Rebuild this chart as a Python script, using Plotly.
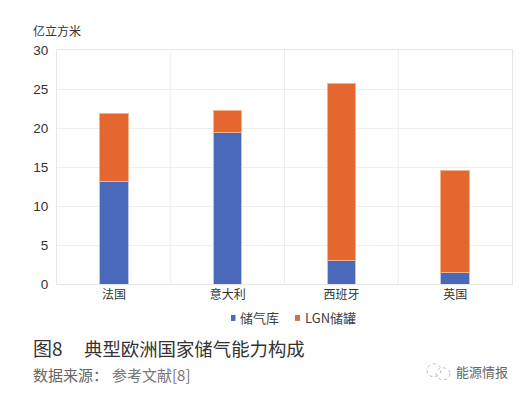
import plotly.graph_objects as go

W, H = 524, 395
categories = ["法国", "意大利", "西班牙", "英国"]
storage = [13.2, 19.4, 3.0, 1.5]
lng = [8.6, 2.9, 22.7, 13.1]
series_names = ["储气库", "LGN储罐"]
y_ticks = [0, 5, 10, 15, 20, 25, 30]

FONT = "Noto Sans CJK SC"
L, R, T, B = 57, 512, 49.5, 284
BLUE, ORANGE = "#4a69ba", "#e3672e"

fig = go.Figure()
fig.add_bar(name=series_names[0], x=categories, y=storage, marker_color=BLUE, width=0.25,
            marker_line_width=1, marker_line_color="#b9c6ea", showlegend=False)
fig.add_bar(name=series_names[1], x=categories, y=lng, marker_color=ORANGE, width=0.25,
            marker_line_width=1, marker_line_color="#f2b48f", showlegend=False)

fig.update_layout(
    width=W, height=H, autosize=False, barmode="stack", paper_bgcolor="white", plot_bgcolor="white",
    font=dict(family=FONT, color="#333333", size=12),
    margin=dict(l=L, r=W - R, t=T, b=H - B),
    bargap=0.75,
    showlegend=False,
)
fig.update_xaxes(type="category", showgrid=False, showline=True, linecolor="#e6e6e6", linewidth=1, mirror=True,
                 ticks="", tickfont=dict(size=12, color="#333333", family=FONT))
fig.update_yaxes(range=[0, 30], tickvals=y_ticks, gridcolor="#eeeeee", gridwidth=1, showline=True,
                 linecolor="#e6e6e6", linewidth=1, mirror=True, zeroline=False, ticks="",
                 ticklabelstandoff=5, tickfont=dict(size=13.5, color="#333333", family="Liberation Sans"))

# category separators, behind the bars
for i in range(1, len(categories)):
    fig.add_shape(type="line", xref="x", yref="paper", x0=i - 0.5, x1=i - 0.5, y0=0, y1=1,
                  line=dict(color="#eeeeee", width=1), layer="below")

def fx(x):
    return (x - L) / (R - L)

def fy(y):
    return (B - y) / (B - T)

def note(x, y, text, size, color, anchor="left"):
    fig.add_annotation(xref="paper", yref="paper", x=fx(x), y=fy(y), text=text,
                       showarrow=False, xanchor=anchor, yanchor="middle",
                       borderpad=0, borderwidth=0,
                       font=dict(size=size, color=color, family=FONT))

def legend_key(x0, x1, y0, y1, color):
    fig.add_shape(type="rect", xref="paper", yref="paper", x0=fx(x0), x1=fx(x1), y0=fy(y1), y1=fy(y0),
                  fillcolor=color, line_width=0)

note(33, 30, "亿立方米", 12, "#333333")

# legend, drawn small like the source
legend_key(231, 235.5, 315, 321, BLUE)
note(240, 318, series_names[0], 13, "#404040")
legend_key(295, 300, 315, 321, "#c9764a")
note(305, 318, series_names[1], 13, "#404040")

note(33, 348, "图8", 19, "#333333")
note(84, 348, "典型欧洲国家储气能力构成", 18.4, "#333333")
note(33, 375, "数据来源：", 15, "#666666")
note(112, 375, "参考文献[8]", 15, "#777777")
note(508, 372, "能源情报", 13, "#666666", "right")

# small outlined chat-bubble logo beside the source mark
fig.add_shape(type="circle", xref="paper", yref="paper", x0=fx(427), x1=fx(441), y0=fy(377), y1=fy(364),
              line=dict(color="#bbbbbb", width=1, dash="dot"))
fig.add_shape(type="circle", xref="paper", yref="paper", x0=fx(436), x1=fx(450), y0=fy(380), y1=fy(368),
              line=dict(color="#bbbbbb", width=1, dash="dot"))

fig.write_html("out.html", config={"displayModeBar": False},
               post_script="document.body.style.margin='0';document.body.style.overflow='hidden';")
